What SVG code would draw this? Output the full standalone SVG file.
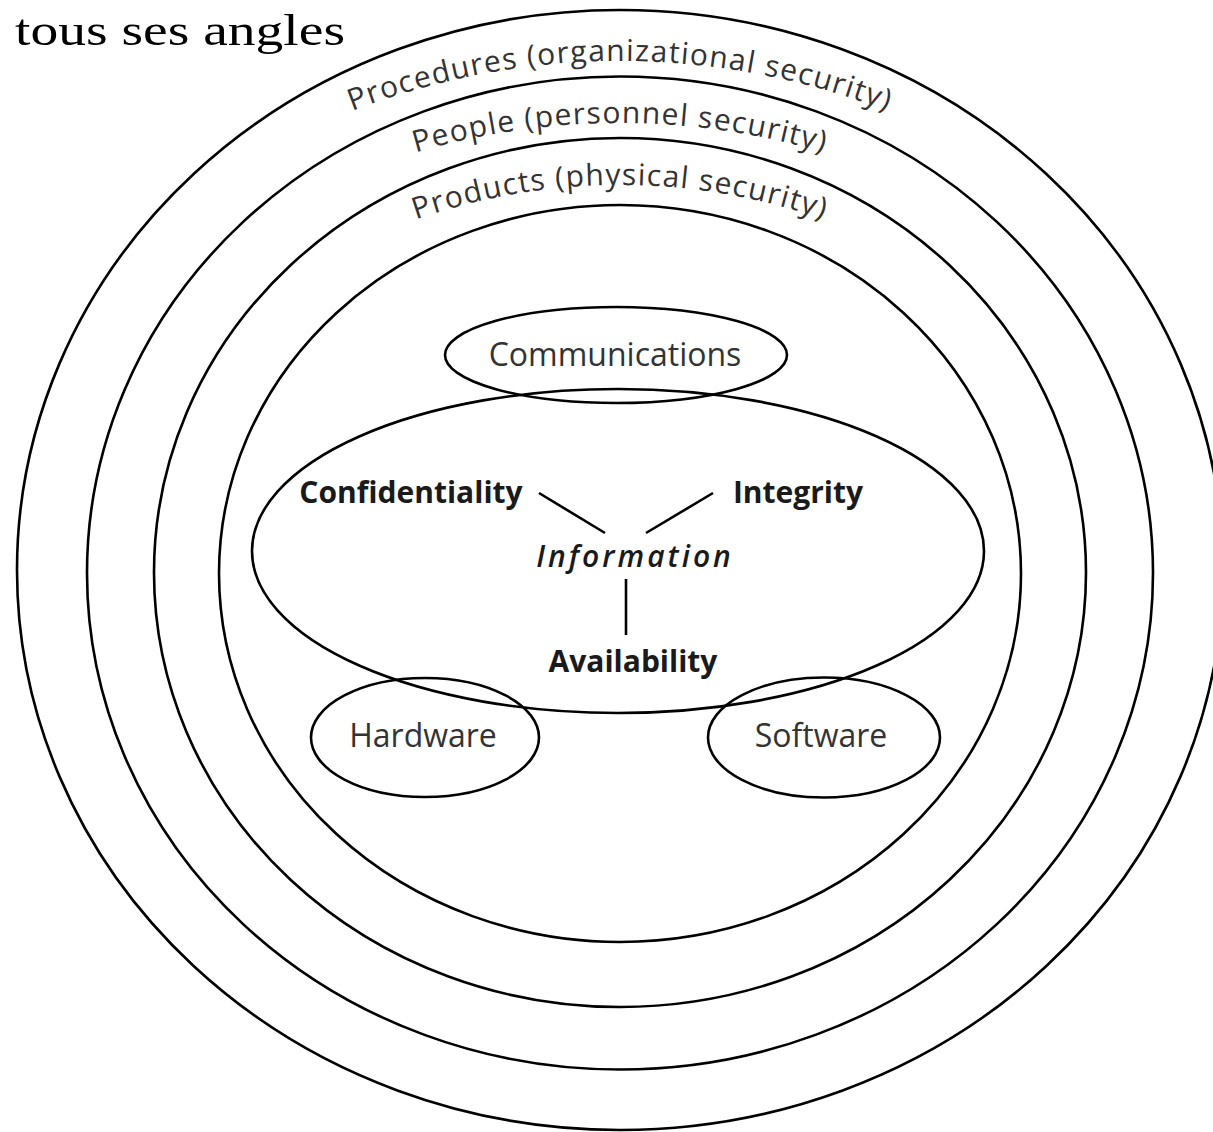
<svg xmlns="http://www.w3.org/2000/svg" width="1213" height="1132" viewBox="0 0 1213 1132">
<style>
.ring{fill:none;stroke:#000;stroke-width:2.6}
.shape{fill:none;stroke:#000;stroke-width:2.6}
.conn{stroke:#000;stroke-width:2.6;fill:none}
.arc{font-family:"Open Sans","Liberation Sans",sans-serif;font-size:30px;fill:#333;letter-spacing:1.3px}
.lbl{font-family:"Open Sans","Liberation Sans",sans-serif;font-size:32px;fill:#333}
.bold{font-family:"Open Sans","Liberation Sans",sans-serif;font-size:30px;font-weight:bold;fill:#1a1a1a}
.ital{font-family:"Open Sans","Liberation Sans",sans-serif;font-size:30px;font-style:italic;font-weight:600;fill:#1a1a1a;letter-spacing:3px}
</style>
<defs>
<path id="p1" d="M-121,802 A741,741 0 0 1 1361,802"/>
<path id="p2" d="M-100,843 A720,720 0 0 1 1340,843"/>
<path id="p3" d="M0,805 A620,620 0 0 1 1240,805"/>
</defs>
<rect width="1213" height="1132" fill="#fff"/>
<text x="15" y="45" font-family="Liberation Serif,serif" font-size="44" fill="#000" textLength="330" lengthAdjust="spacingAndGlyphs">tous ses angles</text>
<g id="procedures">
<ellipse class="ring" cx="620" cy="570" rx="603" ry="560"/>
<text class="arc"><textPath href="#p1" startOffset="50%" text-anchor="middle">Procedures (organizational security)</textPath></text>
</g>
<g id="people">
<ellipse class="ring" cx="620" cy="573" rx="533" ry="496.5"/>
<text class="arc"><textPath href="#p2" startOffset="50%" text-anchor="middle">People (personnel security)</textPath></text>
</g>
<g id="products">
<ellipse class="ring" cx="620" cy="572.5" rx="466" ry="434.5"/>
<text class="arc"><textPath href="#p3" startOffset="50%" text-anchor="middle">Products (physical security)</textPath></text>
</g>
<g id="inner">
<ellipse class="ring" cx="620" cy="573.5" rx="401" ry="368.5"/>
</g>
<g id="communications">
<ellipse class="shape" cx="616" cy="355" rx="171" ry="48"/>
<text class="lbl" x="615" y="366" text-anchor="middle">Communications</text>
</g>
<g id="information">
<ellipse class="shape" cx="618" cy="551" rx="366" ry="162"/>
<text class="ital" x="635" y="567" text-anchor="middle">Information</text>
</g>
<g id="confidentiality">
<text class="bold" x="411" y="503" text-anchor="middle">Confidentiality</text>
</g>
<g id="integrity">
<text class="bold" x="798" y="503" text-anchor="middle">Integrity</text>
</g>
<g id="availability">
<text class="bold" x="633" y="672" text-anchor="middle">Availability</text>
</g>
<g id="hardware">
<ellipse class="shape" cx="425" cy="737.5" rx="114" ry="59.5"/>
<text class="lbl" x="423" y="747" text-anchor="middle">Hardware</text>
</g>
<g id="software">
<ellipse class="shape" cx="824" cy="737.5" rx="116" ry="60"/>
<text class="lbl" x="821" y="747" text-anchor="middle">Software</text>
</g>
<g id="connectors">
<line class="conn" x1="539" y1="493" x2="605" y2="533"/>
<line class="conn" x1="713" y1="493" x2="646" y2="533"/>
<line class="conn" x1="626" y1="579" x2="626" y2="635"/>
</g>
</svg>
